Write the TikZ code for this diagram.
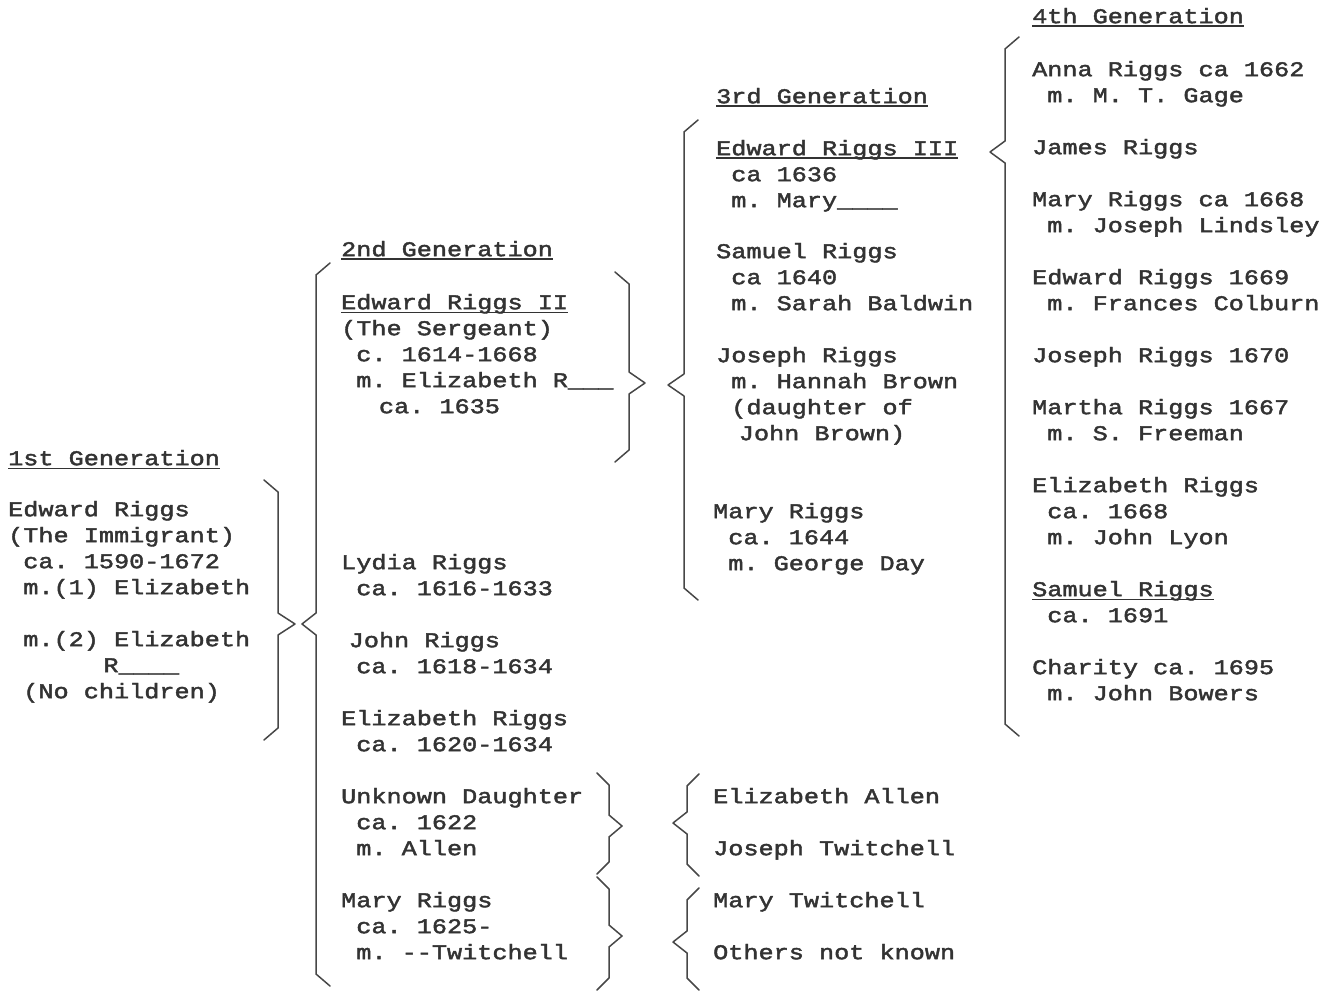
\documentclass[tikz,border=0pt]{standalone}
\usepackage{fontspec}
\newfontfamily\tw[FakeStretch=1.20,FakeBold=2]{Liberation Mono}
\newcommand\tfont{\tw\fontsize{21}{26}\selectfont\frenchspacing}
\newlength\cwd
\setlength\cwd{15.12pt}
\newcommand\tind[1]{\hspace*{#1\cwd}}
\newcommand\fl{\rule{0pt}{20pt}}
\newcommand\ul[1]{\setbox0\hbox{#1}\rlap{\rule[-3.6pt]{\wd0}{1.3pt}}\box0}
\newcommand\brc[6]{% line x, top y, point x, point y, bottom y, tip dx
  \draw[bracestyle] ({#1+#6},{#2}) -- ({#1},{#2+12}) -- ({#1},{#4-11}) -- ({#3},{#4})
    -- ({#1},{#4+11}) -- ({#1},{#5-12}) -- ({#1+#6},{#5});}
\begin{document}
\begin{tikzpicture}[x=1pt,y=-1pt,
  txt/.style={anchor=north west,inner sep=0pt,align=left,font=\tfont,text=black!80},
  bracestyle/.style={draw=black!72,line width=1.5pt,line cap=round,line join=round}]
\useasboundingbox[fill=white] (0,0) rectangle (1331,992);
% 1st generation
\node[txt] (g1) at (8,{465-20}) {\fl\ul{1st Generation}};
\node[txt] (e1) at (8,{516-20}) {\fl Edward Riggs\\(The Immigrant)\\\tind{1}ca. 1590-1672\\\tind{1}m.(1) Elizabeth\\[26pt]\tind{1}m.(2) Elizabeth\\\tind{6.3}R\_\_\_\_\\\tind{1}(No children)};
% 2nd generation
\node[txt] (g2) at (341,{256-20}) {\fl\ul{2nd Generation}};
\node[txt] (e2) at (341,{309-20}) {\fl\ul{Edward Riggs II}\\(The Sergeant)\\\tind{1}c. 1614-1668\\\tind{1}m. Elizabeth R\_\_\_\\\tind{2.5}ca. 1635};
\node[txt] (lyd) at (341,{569-20}) {\fl Lydia Riggs\\\tind{1}ca. 1616-1633};
\node[txt] (joh) at (341,{647-20}) {\fl\tind{0.5}John Riggs\\\tind{1}ca. 1618-1634};
\node[txt] (eli2) at (341,{725-20}) {\fl Elizabeth Riggs\\\tind{1}ca. 1620-1634};
\node[txt] (unk) at (341,{803-20}) {\fl Unknown Daughter\\\tind{1}ca. 1622\\\tind{1}m. Allen};
\node[txt] (mar2) at (341,{907-20}) {\fl Mary Riggs\\\tind{1}ca. 1625-\\\tind{1}m. -{}-Twitchell};
% 3rd generation
\node[txt] (g3) at (716,{103-20}) {\fl\ul{3rd Generation}};
\node[txt] (e3) at (716,{155-20}) {\fl\ul{Edward Riggs III}\\\tind{1}ca 1636\\\tind{1}m. Mary\_\_\_\_};
\node[txt] (sam3) at (716,{258-20}) {\fl Samuel Riggs\\\tind{1}ca 1640\\\tind{1}m. Sarah Baldwin};
\node[txt] (jos3) at (716,{362-20}) {\fl Joseph Riggs\\\tind{1}m. Hannah Brown\\\tind{1}(daughter of\\\tind{1.5}John Brown)};
\node[txt] (mar3) at (713,{518-20}) {\fl Mary Riggs\\\tind{1}ca. 1644\\\tind{1}m. George Day};
\node[txt] (ea) at (713,{803-20}) {\fl Elizabeth Allen};
\node[txt] (jt) at (713,{855-20}) {\fl Joseph Twitchell};
\node[txt] (mt) at (713,{907-20}) {\fl Mary Twitchell};
\node[txt] (onk) at (713,{959-20}) {\fl Others not known};
% 4th generation
\node[txt] (g4) at (1032,{23-20}) {\fl\ul{4th Generation}};
\node[txt] (ann) at (1032,{76-20}) {\fl Anna Riggs ca 1662\\\tind{1}m. M. T. Gage};
\node[txt] (jam) at (1032,{154-20}) {\fl James Riggs};
\node[txt] (mar4) at (1032,{206-20}) {\fl Mary Riggs ca 1668\\\tind{1}m. Joseph Lindsley};
\node[txt] (edw4) at (1032,{284-20}) {\fl Edward Riggs 1669\\\tind{1}m. Frances Colburn};
\node[txt] (jos4) at (1032,{362-20}) {\fl Joseph Riggs 1670};
\node[txt] (mrt) at (1032,{414-20}) {\fl Martha Riggs 1667\\\tind{1}m. S. Freeman};
\node[txt] (eli4) at (1032,{492-20}) {\fl Elizabeth Riggs\\\tind{1}ca. 1668\\\tind{1}m. John Lyon};
\node[txt] (sam4) at (1032,{596-20}) {\fl\ul{Samuel Riggs}\\\tind{1}ca. 1691};
\node[txt] (cha) at (1032,{674-20}) {\fl Charity ca. 1695\\\tind{1}m. John Bowers};
% braces
\brc{278}{480}{295}{624}{740}{-14}
\brc{316}{263}{302}{624}{986}{14}
\brc{629}{272}{645}{383}{462}{-14}
\brc{684}{120}{668}{385}{600}{14}
\brc{1005}{37}{990}{152}{736}{14}
\brc{609}{773}{622}{826}{874}{-12}
\brc{609}{877}{622}{936}{990}{-12}
\brc{687}{774}{673}{823}{876}{12}
\brc{687}{888}{673}{942}{990}{12}
\end{tikzpicture}
\end{document}
